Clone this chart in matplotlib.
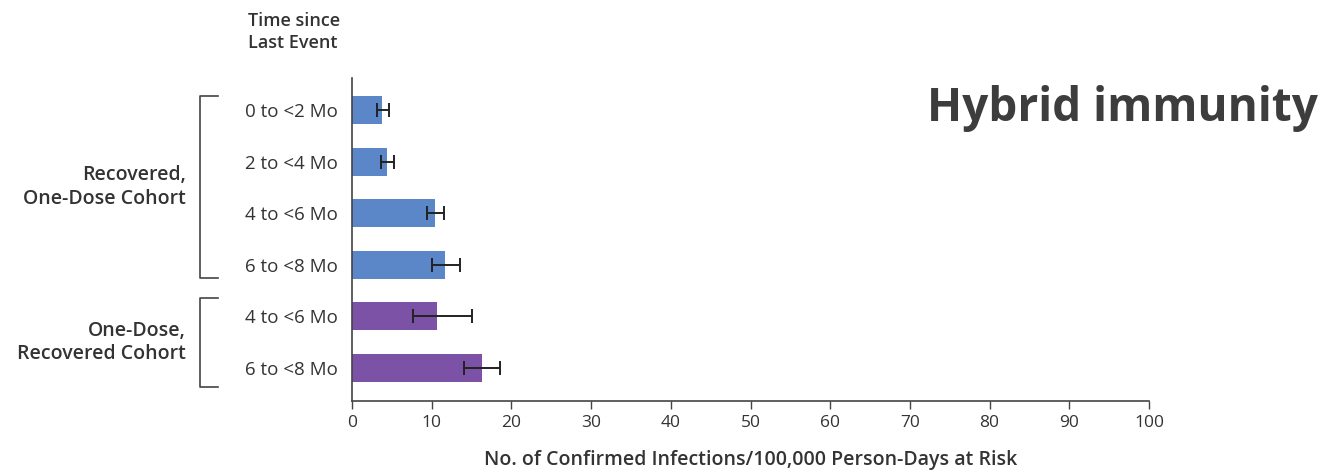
import matplotlib.pyplot as plt
from matplotlib.transforms import blended_transform_factory

# data
periods = ['0 to <2 Mo', '2 to <4 Mo', '4 to <6 Mo', '6 to <8 Mo',
           '4 to <6 Mo', '6 to <8 Mo']
rates = [3.8, 4.4, 10.4, 11.7, 10.7, 16.3]
ci_low = [3.1, 3.6, 9.4, 10.0, 7.6, 14.1]
ci_high = [4.7, 5.3, 11.6, 13.6, 15.1, 18.6]
cohort = ['rec', 'rec', 'rec', 'rec', 'dose', 'dose']
groups = ['Recovered,\nOne-Dose Cohort', 'One-Dose,\nRecovered Cohort']

colors = {'rec': '#5b86c8', 'dose': '#7b52a5'}
text_c = '#333333'

plt.rcParams['font.family'] = ['Open Sans', 'DejaVu Sans']

fig = plt.figure(figsize=(13.32, 4.74), dpi=100)
ax = fig.add_axes([352 / 1332, 1 - 401 / 474, 797 / 1332, 323 / 474])

y = list(range(len(rates)))
ax.barh(y, rates, height=0.54, color=[colors[c] for c in cohort])
xerr = [[r - lo for r, lo in zip(rates, ci_low)],
        [hi - r for r, hi in zip(rates, ci_high)]]
ax.errorbar(rates, y, xerr=xerr, fmt='none', ecolor='#222222',
            elinewidth=1.4, capsize=5, capthick=1.4)

ax.set_xlim(0, 100)
ax.set_ylim(5.64, -0.62)
ax.set_xticks(range(0, 101, 10))
ax.set_yticks(y)
ax.set_yticklabels(periods, fontsize=13.5, color=text_c)
ax.tick_params(axis='y', length=0, pad=10)
ax.tick_params(axis='x', length=6, width=1, color='#444444',
               labelsize=12.5, labelcolor=text_c, pad=4)
for s in ['top', 'right']:
    ax.spines[s].set_visible(False)
for s in ['left', 'bottom']:
    ax.spines[s].set_color('#444444')
    ax.spines[s].set_linewidth(1.2)

ax.set_xlabel('No. of Confirmed Infections/100,000 Person-Days at Risk',
              fontsize=14, fontweight='semibold', color=text_c, labelpad=14)

# brackets for the two cohorts
tr = blended_transform_factory(fig.transFigure, ax.transData)
x0, x1 = 200 / 1332, 218 / 1332
for top, bot, label in [(-0.27, 3.26, groups[0]), (3.64, 5.37, groups[1])]:
    ax.plot([x1, x0, x0, x1], [top, top, bot, bot], transform=tr,
            color='#444444', lw=1.2, clip_on=False)
    ax.text(186 / 1332, (top + bot) / 2, label, transform=tr, ha='right',
            va='center', fontsize=14, fontweight='semibold', color=text_c,
            linespacing=1.25)

fig.text(248 / 1332, 1 - 32 / 474, 'Time since\nLast Event', ha='left',
         va='center', fontsize=13, fontweight='semibold', color=text_c,
         linespacing=1.3)

fig.text(1318 / 1332, 1 - 108 / 474, 'Hybrid immunity', ha='right',
         va='center', fontsize=33, fontweight='bold', color='#3d3d3d')

fig.savefig('out.png', dpi=100)
